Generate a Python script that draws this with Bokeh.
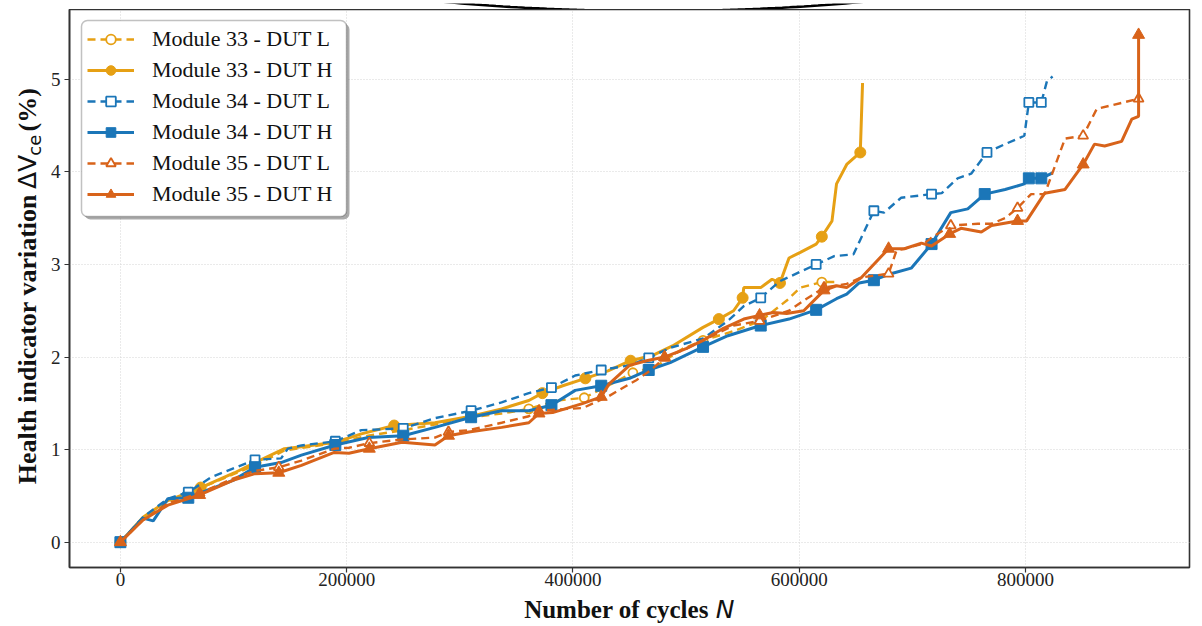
import numpy as np
from math import pi
from bokeh.plotting import figure
from bokeh.layouts import column, row
from bokeh.core.properties import value
from bokeh.models import (Range1d, FixedTicker, NumeralTickFormatter, Legend, LegendItem,
                          BoxAnnotation, ColumnDataSource)
from bokeh.embed import file_html
from bokeh.resources import INLINE

# ---------------- data (cycles N, health indicator variation %) ----------------
N33L = [0, 20000, 42000, 62000, 101000, 119000, 145000, 190000, 219000, 250000, 278000,
        310000, 337000, 361000, 386000, 410000, 431000, 453000, 475000, 497000, 515000,
        542000, 566000, 589000, 601000, 620000, 631000]
V33L = [0, 0.25, 0.43, 0.54, 0.74, 0.83, 0.99, 1.07, 1.15, 1.21, 1.27,
        1.35, 1.39, 1.44, 1.53, 1.56, 1.69, 1.83, 1.91, 2.09, 2.18,
        2.28, 2.39, 2.61, 2.75, 2.81, 2.81]
M33L = [0, 3, 5, 7, 9, 11, 13, 15, 17, 20, 22, 25]

N33H = [0, 20000, 42000, 71000, 101000, 119000, 145000, 160000, 190000, 213000, 242000,
        278000, 310000, 337000, 361000, 373000, 391000, 411000, 431000, 451000, 471000,
        488000, 515000, 529000, 542000, 550000, 551000, 566000, 576000, 583000, 591000,
        601000, 615000, 620000, 629000, 633000, 642000, 654000, 656000]
V33H = [0, 0.27, 0.45, 0.59, 0.75, 0.86, 1.01, 1.03, 1.08, 1.17, 1.26,
        1.29, 1.36, 1.44, 1.53, 1.61, 1.69, 1.77, 1.85, 1.96, 2.02,
        2.12, 2.32, 2.41, 2.50, 2.64, 2.75, 2.75, 2.84, 2.80, 3.07,
        3.13, 3.22, 3.30, 3.47, 3.87, 4.08, 4.21, 4.96]
M33H = [0, 3, 5, 8, 10, 12, 15, 17, 19, 23, 25, 29, 33, 37]

N34L = [0, 20000, 42000, 60000, 80000, 119000, 142000, 148000, 160000, 190000, 213000,
        250000, 278000, 310000, 337000, 361000, 381000, 402000, 425000, 450000, 467000,
        486000, 515000, 537000, 551000, 566000, 583000, 615000, 631000, 648000, 666000,
        675000, 690000, 717000, 726000, 740000, 752000, 766000, 782000, 799000, 803000,
        814000, 819000, 824000]
V34L = [0, 0.27, 0.47, 0.54, 0.70, 0.89, 0.905, 1.01, 1.045, 1.09, 1.21,
        1.23, 1.34, 1.42, 1.51, 1.61, 1.67, 1.80, 1.86, 1.91, 1.99,
        2.10, 2.20, 2.39, 2.55, 2.64, 2.82, 3.00, 3.09, 3.11, 3.58,
        3.56, 3.72, 3.76, 3.77, 3.93, 3.98, 4.21, 4.30, 4.39, 4.75,
        4.75, 4.98, 5.03]
M34L = [0, 3, 5, 9, 11, 13, 16, 18, 20, 25, 27, 30, 33, 37, 40, 41]

N34H = [0, 20000, 29000, 42000, 60000, 100000, 119000, 142000, 160000, 190000, 219000,
        250000, 278000, 310000, 337000, 361000, 381000, 402000, 425000, 450000, 467000,
        486000, 515000, 537000, 566000, 591000, 615000, 633000, 642000, 653000, 666000,
        681000, 699000, 717000, 734000, 749000, 764000, 782000, 799000, 803000, 814000,
        824000]
V34H = [0, 0.26, 0.23, 0.47, 0.48, 0.67, 0.81, 0.86, 0.94, 1.05, 1.13,
        1.15, 1.24, 1.35, 1.42, 1.42, 1.48, 1.64, 1.69, 1.77, 1.86,
        1.94, 2.11, 2.23, 2.34, 2.41, 2.51, 2.63, 2.68, 2.80, 2.83,
        2.90, 2.96, 3.22, 3.56, 3.60, 3.76, 3.81, 3.87, 3.93, 3.93,
        3.99]
M34H = [0, 4, 6, 9, 11, 13, 16, 18, 20, 22, 24, 26, 30, 33, 36, 39, 40]

N35L = [0, 20000, 42000, 70000, 100000, 119000, 140000, 160000, 189000, 202000, 220000,
        249000, 278000, 290000, 308000, 337000, 361000, 370000, 409000, 432000, 456000,
        468000, 481000, 500000, 515000, 542000, 565000, 591000, 604000, 622000, 642000,
        655000, 679000, 686000, 693000, 711000, 717000, 734000, 758000, 770000, 782000,
        793000, 805000, 817000, 835000, 851000, 863000, 900000]
V35L = [0, 0.24, 0.42, 0.53, 0.69, 0.77, 0.81, 0.88, 1.01, 1.02, 1.07,
        1.11, 1.13, 1.19, 1.21, 1.29, 1.36, 1.42, 1.45, 1.58, 1.75,
        1.85, 1.99, 2.09, 2.18, 2.34, 2.39, 2.50, 2.61, 2.75, 2.79,
        2.86, 2.90, 3.15, 3.17, 3.23, 3.29, 3.42, 3.44, 3.44, 3.50,
        3.61, 3.76, 3.76, 4.36, 4.39, 4.68, 4.79]
M35L = [0, 3, 6, 10, 13, 17, 22, 26, 29, 32, 37, 41, 45, 47]

N35H = [0, 20000, 42000, 70000, 100000, 119000, 140000, 160000, 189000, 202000, 220000,
        249000, 278000, 290000, 308000, 337000, 361000, 370000, 382000, 409000, 425000,
        432000, 450000, 465000, 481000, 500000, 515000, 533000, 551000, 565000, 577000,
        589000, 604000, 622000, 633000, 642000, 655000, 679000, 693000, 708000, 717000,
        733000, 743000, 761000, 770000, 793000, 801000, 817000, 835000, 851000, 861000,
        870000, 885000, 894000, 900000, 900000]
V35H = [0, 0.24, 0.40, 0.51, 0.67, 0.74, 0.75, 0.83, 0.97, 0.96, 1.01,
        1.08, 1.05, 1.15, 1.19, 1.24, 1.29, 1.39, 1.40, 1.50, 1.57,
        1.71, 1.91, 1.96, 2.00, 2.09, 2.18, 2.31, 2.41, 2.45, 2.48,
        2.47, 2.50, 2.72, 2.77, 2.75, 2.86, 3.17, 3.17, 3.23, 3.20,
        3.33, 3.39, 3.35, 3.42, 3.47, 3.47, 3.77, 3.81, 4.08, 4.30,
        4.28, 4.33, 4.57, 4.60, 5.48]
M35H = [0, 3, 6, 10, 13, 17, 20, 24, 29, 33, 37, 41, 45, 49, 55]

X_TICKS = [0, 200000, 400000, 600000, 800000]
Y_TICKS = [0, 1, 2, 3, 4, 5]

LEGEND_LABELS = ["Module 33 - DUT L", "Module 33 - DUT H", "Module 34 - DUT L",
                 "Module 34 - DUT H", "Module 35 - DUT L", "Module 35 - DUT H"]
X_TITLE = ["Number of cycles", "N"]
Y_TITLE = ["Health indicator variation", "ΔV", "ce", "(%)"]

YEL = "#E6A014"
BLU = "#1B76B8"
ORA = "#D8631A"
INK = "#111111"

series = [
    (N33L, V33L, M33L, YEL, True, "circle"),
    (N33H, V33H, M33H, YEL, False, "circle"),
    (N34L, V34L, M34L, BLU, True, "square"),
    (N34H, V34H, M34H, BLU, False, "square"),
    (N35L, V35L, M35L, ORA, True, "triangle"),
    (N35H, V35H, M35H, ORA, False, "triangle"),
]

# ---------------- main plot ----------------
p = figure(width=1156, height=584, output_backend="svg", toolbar_location=None,
           x_range=Range1d(-45000, 945000), y_range=Range1d(-0.2735, 5.754),
           min_border_left=23, min_border_right=13, min_border_top=0, min_border_bottom=26)
p.background_fill_color = "white"
p.border_fill_color = "white"
p.outline_line_color = "#333333"
p.outline_line_width = 1.6

p.xaxis.ticker = FixedTicker(ticks=X_TICKS)
p.yaxis.ticker = FixedTicker(ticks=Y_TICKS)
p.xaxis.formatter = NumeralTickFormatter(format="0")
for ax in (p.xaxis, p.yaxis):
    ax.major_label_text_font = "Liberation Serif"
    ax.major_label_text_font_size = "19px"
    ax.major_label_text_color = "#222222"
    ax.major_tick_line_color = "#333333"
    ax.major_tick_line_width = 1.2
    ax.major_tick_out = 5
    ax.major_tick_in = 0
    ax.minor_tick_line_color = None
    ax.axis_line_color = "#333333"
    ax.axis_line_width = 1.6
    ax.axis_label = None
p.xaxis.major_label_standoff = 0
p.yaxis.major_label_standoff = 4

p.grid.grid_line_color = "#d4d4d4"
p.grid.grid_line_dash = "1 2"
p.grid.grid_line_width = 1

items = []
for (xs, ys, midx, col, dashed, mk), name in zip(series, LEGEND_LABELS):
    src = ColumnDataSource(dict(x=xs, y=ys))
    msrc = ColumnDataSource(dict(x=[xs[i] for i in midx], y=[ys[i] for i in midx]))
    if dashed:
        lr = p.line("x", "y", source=src, line_color=col, line_width=2.4, line_dash="8 5")
        sr = p.scatter("x", "y", source=msrc, marker=mk, size=9 if mk != "triangle" else 10,
                       fill_color="white", line_color=col, line_width=1.8)
    else:
        lr = p.line("x", "y", source=src, line_color=col, line_width=3)
        sr = p.scatter("x", "y", source=msrc, marker=mk, size=11 if mk != "triangle" else 12,
                       fill_color=col, line_color=col, line_width=1)
    items.append(LegendItem(label=name, renderers=[lr, sr]))

# legend frame with rounded corners and shadow (screen units relative to frame)
shadow = BoxAnnotation(left=15, right=280, top=544, bottom=348,
                       left_units="screen", right_units="screen",
                       top_units="screen", bottom_units="screen",
                       fill_color="#666666", fill_alpha=0.55, line_color=None,
                       border_radius=6)
box = BoxAnnotation(left=12, right=277, top=547, bottom=351,
                    left_units="screen", right_units="screen",
                    top_units="screen", bottom_units="screen",
                    fill_color="white", fill_alpha=1.0, line_color="#333333",
                    line_width=1.5, border_radius=6)
p.add_layout(shadow)
p.add_layout(box)

legend = Legend(items=items, location=(18, 360), padding=12, spacing=5,
                glyph_width=47, glyph_height=24, label_standoff=18,
                label_text_font="Liberation Serif", label_text_font_size="22px",
                label_text_color=INK, border_line_color=None,
                background_fill_alpha=0)
p.add_layout(legend)


def strip(w, h):
    f = figure(width=w, height=h, output_backend="svg", toolbar_location=None,
               x_range=Range1d(0, w), y_range=Range1d(0, h),
               x_axis_type=None, y_axis_type=None, min_border=0)
    f.title = None
    f.outline_line_color = None
    f.background_fill_color = "white"
    f.border_fill_color = "white"
    return f


centered = dict(text_color=INK, text_align=value("center"), text_baseline=value("middle"))

# ---------------- y-axis title (rotated, with subscript) ----------------
yl = strip(46, 584)
yl.text(x=[27], y=[239], text=[Y_TITLE[0]], angle=pi / 2, text_font=value("Liberation Serif"),
        text_font_style=value("bold"), text_font_size=value("26px"), **centered)
yl.text(x=[27], y=[414], text=[Y_TITLE[1]], angle=pi / 2, text_font=value("DejaVu Sans"),
        text_font_size=value("25px"), **centered)
yl.text(x=[34], y=[442], text=[Y_TITLE[2]], angle=pi / 2, text_font=value("DejaVu Sans"),
        text_font_size=value("18px"), **centered)
yl.text(x=[27], y=[479], text=[Y_TITLE[3]], angle=pi / 2, text_font=value("Liberation Serif"),
        text_font_style=value("bold"), text_font_size=value("26px"), **centered)

# ---------------- x-axis title ----------------
xl = strip(1202, 33)
xl.text(x=[616], y=[17.5], text=[X_TITLE[0]], text_font=value("Liberation Serif"),
        text_font_style=value("bold"), text_font_size=value("25px"), **centered)
xl.text(x=[724.5], y=[17.5], text=[X_TITLE[1]], text_font=value("DejaVu Sans"),
        text_font_style=value("italic"), text_font_size=value("25px"), **centered)

# ---------------- decorative arc above the frame ----------------
top = strip(1202, 9)
t = np.linspace(0.0, np.pi, 161)
top.line(x=653 + 393 * np.cos(t), y=9 - (-52.5 + 60 * np.sin(t)),
         line_color="black", line_width=2.6)

lay = column(top, row(yl, p), xl)
open("out.html", "w").write(file_html(lay, INLINE))
